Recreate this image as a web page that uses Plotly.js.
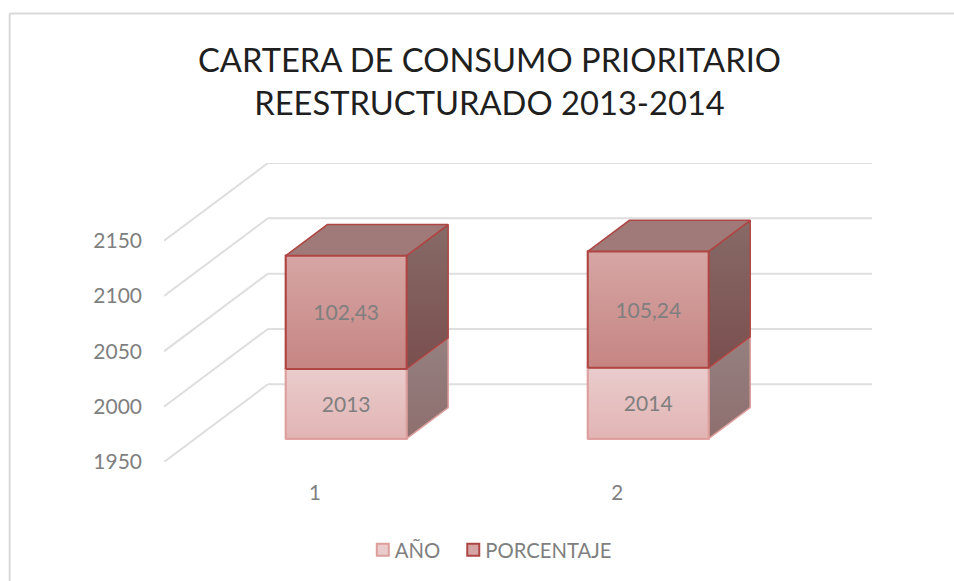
<!DOCTYPE html>
<html><head><meta charset="utf-8">
<script src="https://cdn.plot.ly/plotly-3.0.1.min.js"></script>
<style>html,body{margin:0;padding:0;background:#fff}</style></head>
<body><div id="chart" style="width:954px;height:581px"></div>
<script>
const categories = [1, 2];
const anio = [2013, 2014];
const porcentaje = [102.43, 105.24];
const anioLabels = ['2013', '2014'];
const porcentajeLabels = ['102,43', '105,24'];
const yTicks = [1950, 2000, 2050, 2100, 2150];

const font = 'Lato, "Open Sans", sans-serif';
const textColor = '#7f7f7f';
const base = yTicks[0];
const wallDx = 0.344, wallDy = 70.27;
const d0 = 0.3, d1 = 0.7, barW = 0.4;
const labelShift = -2.6;
const frontX = c => c + d0 * wallDx;
const frontShift = d0 * wallDy;
const sideDx = (d1 - d0) * wallDx, sideDy = (d1 - d0) * wallDy;

function poly(xs, ys, colors, line, width) {
  return {type:'scatter', mode:'lines', x:[...xs, xs[0]], y:[...ys, ys[0]], fill:'toself',
    fillgradient:{type:'vertical', colorscale:[[0, colors[0]], [1, colors[1]]]},
    line:{color:line, width:width}, showlegend:false, hoverinfo:'skip'};
}

const series = [
  {name:'AÑO', h:anio.map(v => v - base), b:anio.map(() => 0), line:'#dd9f9d', width:2,
   front:['#e2b4b4', '#eacccc'], side:['#8e6f6e', '#958080'], labels:anioLabels},
  {name:'PORCENTAJE', h:porcentaje, b:anio.map(v => v - base), line:'#ae4644', width:2,
   front:['#c68583', '#d6a6a4'], side:['#7a4f4e', '#876a67'], labels:porcentajeLabels}
];

const traces = [];
series.forEach(s => traces.push({type:'bar', name:s.name, x:categories.map(frontX), y:s.h,
  base:s.b.map(b => base + frontShift + b), width:barW,
  marker:{color:s.front[1], line:{color:s.line, width:s.width}}, hoverinfo:'skip'}));

series.forEach(s => categories.forEach((c, i) => {
  const x0 = frontX(c) - barW / 2, x1 = x0 + barW;
  const y0 = base + frontShift + s.b[i], y1 = y0 + s.h[i];
  traces.push(poly([x1, x1 + sideDx, x1 + sideDx, x1], [y0, y0 + sideDy, y1 + sideDy, y1], s.side, s.line, s.width - 0.5));
  if (s === series[1])
    traces.push(poly([x0, x1, x1 + sideDx, x0 + sideDx], [y1, y1, y1 + sideDy, y1 + sideDy], ['#a07a79', '#a07a79'], s.line, s.width - 0.5));
  traces.push(poly([x0, x1, x1, x0], [y0, y0, y1, y1], s.front, s.line, s.width));
}));

series.forEach(s => traces.push({type:'scatter', mode:'text', x:categories.map(frontX),
  y:s.h.map((h, i) => base + frontShift + s.b[i] + h / 2 + labelShift), text:s.labels, textposition:'middle center',
  textfont:{family:font, size:21, color:textColor}, showlegend:false, hoverinfo:'skip'}));

const grid = {color:'#dedede', width:2};
const shapes = [];
yTicks.forEach(v => {
  shapes.push({type:'line', layer:'below', xref:'x', yref:'y', x0:0.5, y0:v, x1:0.5 + wallDx, y1:v + wallDy, line:grid});
  shapes.push({type:'line', layer:'below', xref:'x', yref:'y', x0:0.5 + wallDx, y0:v + wallDy, x1:2.5 + wallDx, y1:v + wallDy, line:grid});
});
const border = {color:'#d9d9d9', width:2};
shapes.push({type:'line', xref:'paper', yref:'paper', x0:-0.218, x1:1.2, y0:1.5, y1:1.5, line:border});
shapes.push({type:'line', xref:'paper', yref:'paper', x0:-0.218, x1:-0.218, y0:-0.5, y1:1.5, line:border});

const layout = {
  width:954, height:581, paper_bgcolor:'#fff', plot_bgcolor:'rgba(0,0,0,0)',
  margin:{l:164, r:82, t:163, b:118}, barmode:'overlay',
  font:{family:font, color:textColor},
  title:{text:'CARTERA DE CONSUMO PRIORITARIO<br>REESTRUCTURADO 2013-2014',
    font:{family:font, size:32.7, color:'#1f1f1f'}, x:489.5/954, xanchor:'center', xref:'container', y:0.876, yref:'container', yanchor:'bottom'},
  xaxis:{range:[0.5, 2.5 + wallDx], tickmode:'array', tickvals:categories, ticktext:categories.map(String),
    showgrid:false, zeroline:false, showline:false, ticks:'', ticklabelstandoff:16, tickfont:{family:font, size:20.5, color:textColor}},
  yaxis:{range:[base, 2150 + wallDy], tickmode:'array', tickvals:yTicks, ticktext:yTicks.map(String),
    showgrid:false, zeroline:false, showline:false, ticks:'', ticklabelstandoff:21, ticklabelshift:0, tickfont:{family:font, size:21, color:textColor}},
  legend:{orientation:'h', x:0.2695, y:-0.2233, xanchor:'left', yanchor:'top',
    font:{family:font, size:20.3, color:textColor}, traceorder:'normal'},
  shapes
};
const gd = document.getElementById('chart');
const nudgeSwatches = () => gd.querySelectorAll('.legendpoints').forEach(g => g.setAttribute('transform', 'translate(8,0)'));
Plotly.newPlot(gd, traces, layout, {displayModeBar:false, staticPlot:true}).then(nudgeSwatches);
</script></body></html>
